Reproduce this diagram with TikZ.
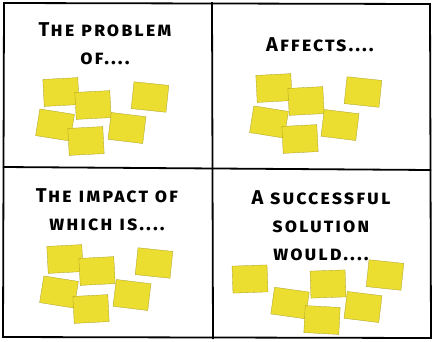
\documentclass[tikz,border=0pt]{standalone}
\usepackage{fontspec}
\newfontfamily\sketchfont[Letters=SmallCaps,LetterSpace=10]{Fira Sans Bold}
\definecolor{notey}{RGB}{236,222,48}
\tikzset{
  note/.style={fill=notey,draw=notey!70!black,line width=0.3pt,minimum width=35pt,minimum height=27pt,inner sep=0pt},
  title/.style={font=\sketchfont\fontsize{20}{28}\selectfont,align=center}
}
\begin{document}
\begin{tikzpicture}[x=1pt,y=-1pt]
\useasboundingbox(0,0) rectangle (433,341);
\draw[line width=1.8pt](4,3)--(430,4)--(431,338)--(3,337)--cycle;
\draw[line width=1.8pt](212,2)--(213,339);
\draw[line width=1.8pt](3,167)--(431,170);

% the problem of
\node[title](t1) at (105,44) {The problem\\of....};
\node[note,rotate=3](n11) at (61,92) {};
\node[note,rotate=3](n12) at (93,105) {};
\node[note,rotate=-6](n13) at (150,97) {};
\node[note,rotate=-9](n14) at (55,125) {};
\node[note,rotate=3](n15) at (86,141) {};
\node[note,rotate=-7](n16) at (127,128) {};

% affects
\node[title](t2) at (320,45) {Affects....};
\node[note,rotate=3](n21) at (274,88) {};
\node[note,rotate=3](n22) at (306,101) {};
\node[note,rotate=-6](n23) at (363,92) {};
\node[note,rotate=-9](n24) at (269,122) {};
\node[note,rotate=3](n25) at (300,139) {};
\node[note,rotate=-7](n26) at (340,125) {};

% the impact of
\node[title](t3) at (107,210) {The impact of\\which is....};
\node[note,rotate=3](n31) at (65,259) {};
\node[note,rotate=3](n32) at (97,271) {};
\node[note,rotate=-6](n33) at (154,263) {};
\node[note,rotate=-9](n34) at (59,292) {};
\node[note,rotate=3](n35) at (91,309) {};
\node[note,rotate=-7](n36) at (132,295) {};

% a successful solution
\node[title](t4) at (321,226) {A successful\\solution\\would....};
\node[note,rotate=2](n41) at (250,279) {};
\node[note,rotate=-8](n42) at (290,303) {};
\node[note,rotate=2](n43) at (328,284) {};
\node[note,rotate=-6](n44) at (385,275) {};
\node[note,rotate=-7](n45) at (363,307) {};
\node[note,rotate=-3](n46) at (322,320) {};
\end{tikzpicture}
\end{document}
